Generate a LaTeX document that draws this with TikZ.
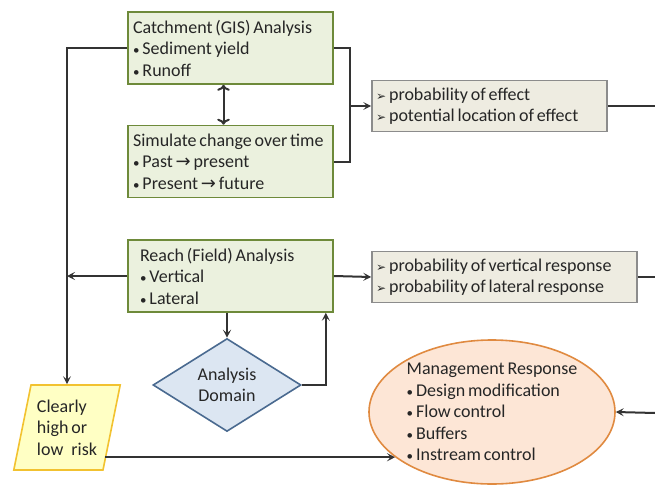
\documentclass[tikz,border=0pt]{standalone}
\usepackage{fontspec}
\setmainfont{Carlito}[WordSpace=0.7]
\newfontfamily\symf{DejaVu Sans}
\usetikzlibrary{arrows.meta,positioning,shapes.geometric}
\definecolor{txtgray}{HTML}{262626}
\definecolor{linegray}{HTML}{333333}
\definecolor{gfill}{HTML}{EBF1DE}
\definecolor{gdraw}{HTML}{6E8A3A}
\definecolor{pfill}{HTML}{EEECE1}
\definecolor{pdraw}{HTML}{8C8C8C}
\definecolor{dfill}{HTML}{DCE6F2}
\definecolor{ddraw}{HTML}{4A6A90}
\definecolor{yfill}{HTML}{FFFFC4}
\definecolor{ydraw}{HTML}{F2C230}
\definecolor{efill}{HTML}{FDE6D6}
\definecolor{edraw}{HTML}{E08A40}
\newcommand{\arrbul}{{\symf\fontsize{12}{12}\selectfont ➢}\,}
\newcommand{\bul}{{\fontsize{13}{13}\selectfont•}\hspace{3pt}}
\newcommand{\rarr}{{\symf →}}
\hyphenpenalty=10000

\begin{document}
\begin{tikzpicture}[x=1pt,y=-1pt,
every node/.style={font=\fontsize{18}{21.5}\selectfont,text=txtgray},
gbox/.style={rectangle,draw=gdraw,fill=gfill,line width=1.6pt,minimum width=205pt,minimum height=72pt,text width=195pt,inner xsep=5pt,align=flush left},
pbox/.style={rectangle,draw=pdraw,fill=pfill,line width=1.6pt,minimum width=235pt,minimum height=51pt,text width=227pt,inner xsep=4pt,align=flush left},
dbox/.style={diamond,draw=ddraw,fill=dfill,line width=1.6pt,minimum width=148pt,minimum height=84pt,inner sep=0pt,align=center},
ybox/.style={trapezium,trapezium left angle=75.5,trapezium right angle=104.5,trapezium stretches=true,draw=ydraw,fill=yfill,line width=1.6pt,minimum width=107pt,minimum height=85pt,inner sep=0pt,align=flush left},
ebox/.style={ellipse,draw=edraw,fill=efill,line width=1.6pt,minimum width=246pt,minimum height=144pt,inner sep=0pt,align=flush left},
line/.style={draw=linegray,line width=2pt},
arr/.style={line,-{Stealth[length=8pt,width=8pt,inset=3.5pt]}}]
\useasboundingbox (0,0) rectangle (655,484);
\node[gbox] (catch) at (230.5,48) {Catchment (GIS) Analysis\\\bul Sediment yield\\\bul Runoff};
\node[gbox] (sim) at (230.5,161.5) {Simulate change over time\\\bul Past \rarr\ present\\\bul Present \rarr\ future};
\node[gbox,text width=181pt,inner xsep=12pt] (reach) at (230.5,276) {Reach (Field) Analysis\\\bul Vertical\\\bul Lateral};
\node[pbox] (prob1) at (489.5,106) {\arrbul probability of effect\\\arrbul potential location of effect};
\node[pbox,minimum width=265pt,text width=257pt] (prob2) at (504.5,277) {\arrbul probability of vertical response\\\arrbul probability of lateral response};
\node[dbox] (dom) at (227,385) {Analysis\\Domain};
\node[ybox] (clear) at (67,427.5) {Clearly\\high or\\low\hspace{8pt}risk};
\node[ebox] (mgmt) at (492,412) {Management Response\\\bul Design modification\\\bul Flow control\\\bul Buffers\\\bul Instream control};
\coordinate (join1) at (350,106);
\coordinate (out1) at (655,106);
\coordinate (out2) at (655,277);
\coordinate (in3) at (655,413);
\draw[arr,<->] ([xshift=-7pt]catch.south) -- ([xshift=-7pt]sim.north);
\draw[line] (catch.east) -| (join1) |- (sim.east);
\draw[arr] (join1) -- (prob1.west);
\draw[line] (prob1.east) -- (out1);
\draw[arr] (catch.west) -| (clear.north);
\draw[arr] (reach.west) -- (reach.west -| clear.north);
\draw[arr] (reach.east) -- (prob2.west);
\draw[line] (prob2.east) -- (out2);
\draw[arr] (dom.north |- reach.south) -- (dom.north);
\draw[arr] (dom.east) -| ([xshift=-8pt]reach.south east);
\draw[arr] ([xshift=-7pt]clear.east |- mgmt.205) -- (mgmt.205);
\draw[arr] (in3) -- (mgmt.east);
\end{tikzpicture}
\end{document}
